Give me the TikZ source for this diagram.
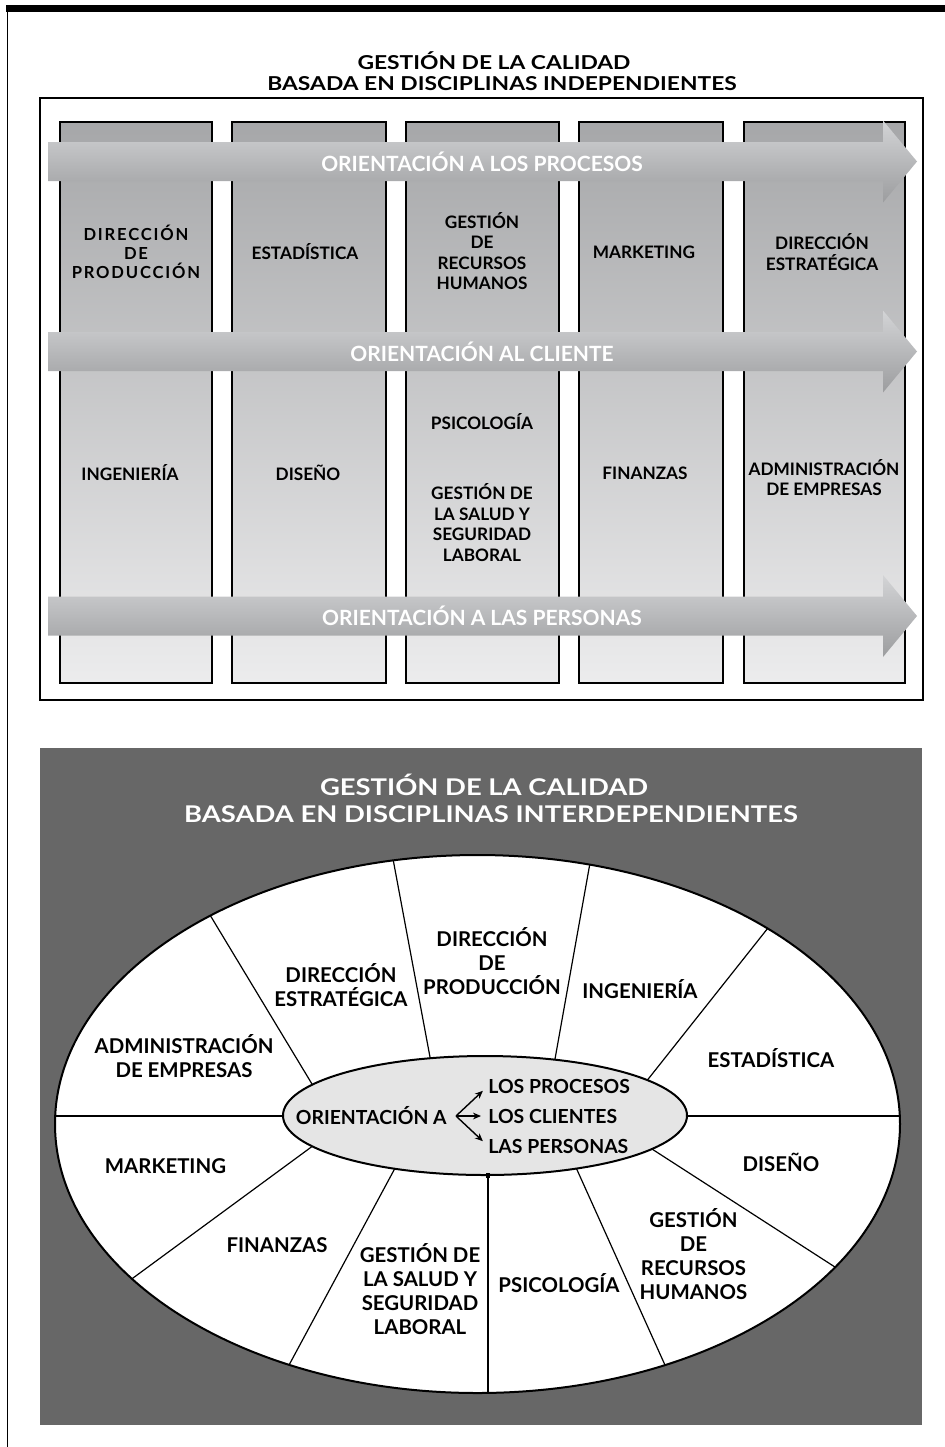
\documentclass[tikz,border=0pt]{standalone}
\usepackage{graphicx}
\usepackage{fontspec}
\setmainfont{Lato}
\usetikzlibrary{arrows.meta}

\definecolor{colTop}{HTML}{A6A7A9}
\definecolor{colBot}{HTML}{ECECED}
\definecolor{bandTop}{HTML}{D3D4D6}
\definecolor{bandBot}{HTML}{9C9D9F}
\definecolor{darkbg}{HTML}{676767}
\definecolor{innergray}{HTML}{E5E5E5}

\newcommand{\narrowtitle}[1]{\scalebox{1}[0.84]{#1}}

\tikzset{
  column/.style={top color=colTop, bottom color=colBot, draw=black, line width=1.4pt},
  band/.style={top color=bandTop, bottom color=bandBot},
  coltext/.style={font=\bfseries\fontsize{8.6}{10.3}\selectfont, align=center, inner sep=0pt},
  bandtext/.style={font=\bfseries\fontsize{10.5}{12}\selectfont, text=white, inner sep=0pt},
  segtext/.style={font=\bfseries\fontsize{10.2}{12}\selectfont, align=center, inner sep=0pt},
  forktext/.style={font=\bfseries\fontsize{9.7}{12}\selectfont, inner sep=0pt},
  titleup/.style={font=\bfseries\fontsize{11.4}{12}\selectfont, inner sep=0pt},
  titledown/.style={font=\bfseries\fontsize{13.7}{14}\selectfont, text=white, inner sep=0pt},
  spoke/.style={line width=0.6pt},
  tip/.style={-{Stealth[length=4pt,width=3.4pt]}, line width=0.7pt, shorten >=3.5pt}
}

\begin{document}
\begin{tikzpicture}[x=0.5pt,y=-0.5pt]
  \useasboundingbox (0,0) rectangle (945,1447);

  % Drawing page frame
  \fill (6,5) rectangle (945,12);%
  \draw [line width=0.5pt] (7,12) -- (7,1447);%

  % Writing upper title
  \node [titleup] (uptitlea) at (494,61) {\narrowtitle{GESTIÓN DE LA CALIDAD}};%
  \node [titleup] (uptitleb) at (502,84) {\narrowtitle{BASADA EN DISCIPLINAS INDEPENDIENTES}};%

  % Drawing upper box
  \draw [line width=0.6pt] (40,98) rectangle (923,700);%

  % Drawing columns
  \foreach \xa/\xb in {60/212,232/386,406/559,579/723,744/905}
    \shade [column] (\xa,122) rectangle (\xb,683);%

  % Drawing orientation arrows
  \foreach \ym in {161.5,351.5,616}
    \shade [band] (48,\ym-19.5) -- (883,\ym-19.5) -- (883,\ym-41) -- (917,\ym) -- (883,\ym+41) -- (883,\ym+19.5) -- (48,\ym+19.5) -- cycle;%
  \node [bandtext] (bandproc) at (482,161.5) {ORIENTACIÓN A LOS PROCESOS};%
  \node [bandtext] (bandcli) at (482,351.5) {ORIENTACIÓN AL CLIENTE};%
  \node [bandtext] (bandpers) at (482,616) {ORIENTACIÓN A LAS PERSONAS};%

  % Writing disciplines, upper row
  \node [coltext, font=\bfseries\fontsize{8.3}{9.6}\selectfont\addfontfeature{LetterSpace=11}] (upprod) at (136,252) {DIRECCIÓN\\DE\\PRODUCCIÓN};%
  \node [coltext] (upstat) at (305,252) {ESTADÍSTICA};%
  \node [coltext] (uphr) at (482,251) {GESTIÓN\\DE\\RECURSOS\\HUMANOS};%
  \node [coltext] (upmkt) at (644,252) {MARKETING};%
  \node [coltext] (upstrat) at (822,252) {DIRECCIÓN\\ESTRATÉGICA};%

  % Writing disciplines, lower row
  \node [coltext] (upeng) at (130,473) {INGENIERÍA};%
  \node [coltext] (updes) at (308,473) {DISEÑO};%
  \node [coltext] (uppsy) at (482,422) {PSICOLOGÍA};%
  \node [coltext] (upsafe) at (482,522.5) {GESTIÓN DE\\LA SALUD Y\\SEGURIDAD\\LABORAL};%
  \node [coltext] (upfin) at (645,473) {FINANZAS};%
  \node [coltext] (upadm) at (824,477.5) {ADMINISTRACIÓN\\DE EMPRESAS};%

  % Drawing lower panel
  \fill [darkbg] (40,748) rectangle (922,1425);%
  \node [titledown] (downtitlea) at (484,785) {\narrowtitle{GESTIÓN DE LA CALIDAD}};%
  \node [titledown] (downtitleb) at (491,814) {\narrowtitle{BASADA EN DISCIPLINAS INTERDEPENDIENTES}};%

  % Drawing outer ellipse and its sectors
  \fill [white] (477.5,1124) ellipse [x radius=211.25pt, y radius=134.5pt];%
  \begin{scope}
    \clip (477.5,1124) ellipse [x radius=211.25pt, y radius=134.5pt];%
    \draw [spoke] (432.2,1068.9) -- (390.8,847.1);%
    \draw [spoke] (552.9,1070.8) -- (592.1,851.2);%
    \draw [spoke] (641.9,1087) -- (775.1,919);%
    \draw [spoke] (680,1116) -- (910,1116);%
    \draw [spoke] (644.2,1144) -- (845.8,1274);%
    \draw [spoke] (572.8,1160.4) -- (670.2,1376.6);%
    \draw [spoke] (488,1175) -- (488,1400);%
    \draw [spoke] (399.2,1160.4) -- (282.8,1376.6);%
    \draw [spoke] (320.6,1140.2) -- (122.4,1285.8);%
    \draw [spoke] (45,1116) -- (290,1116);%
    \draw [spoke] (318.1,1094.1) -- (203.9,904.9);%
  \end{scope}
  \draw [line width=1pt] (477.5,1124) ellipse [x radius=211.25pt, y radius=134.5pt];%

  % Drawing inner ellipse
  \draw [fill=innergray, line width=1pt] (485,1115.5) ellipse [x radius=101pt, y radius=29.75pt];%
  \fill (486.3,1172.5) rectangle (489.7,1177.5);%

  % Writing orientation fork
  \node [forktext, anchor=east] (orient) at (447,1116) {ORIENTACIÓN A};%
  \coordinate (fork) at (456,1116);%
  \node [forktext, anchor=west] (procesos) at (488,1086) {LOS PROCESOS};%
  \node [forktext, anchor=west] (clientes) at (488,1116) {LOS CLIENTES};%
  \node [forktext, anchor=west] (personas) at (488,1146) {LAS PERSONAS};%
  \draw [tip] (fork) -- (procesos.west);%
  \draw [tip] (fork) -- (clientes.west);%
  \draw [tip] (fork) -- (personas.west);%

  % Writing disciplines in sectors
  \node [segtext] (prod) at (492,961) {DIRECCIÓN\\DE\\PRODUCCIÓN};%
  \node [segtext] (eng) at (640,989) {INGENIERÍA};%
  \node [segtext] (stat) at (771,1058) {ESTADÍSTICA};%
  \node [segtext] (des) at (781,1162) {DISEÑO};%
  \node [segtext] (hr) at (693.5,1254.5) {GESTIÓN\\DE\\RECURSOS\\HUMANOS};%
  \node [segtext] (psy) at (559,1283) {PSICOLOGÍA};%
  \node [segtext] (safe) at (420,1289) {GESTIÓN DE\\LA SALUD Y\\SEGURIDAD\\LABORAL};%
  \node [segtext] (fin) at (277,1245) {FINANZAS};%
  \node [segtext] (mkt) at (165.5,1166) {MARKETING};%
  \node [segtext] (adm) at (184,1056.5) {ADMINISTRACIÓN\\DE EMPRESAS};%
  \node [segtext] (strat) at (341,985.5) {DIRECCIÓN\\ESTRATÉGICA};%
\end{tikzpicture}
\end{document}
